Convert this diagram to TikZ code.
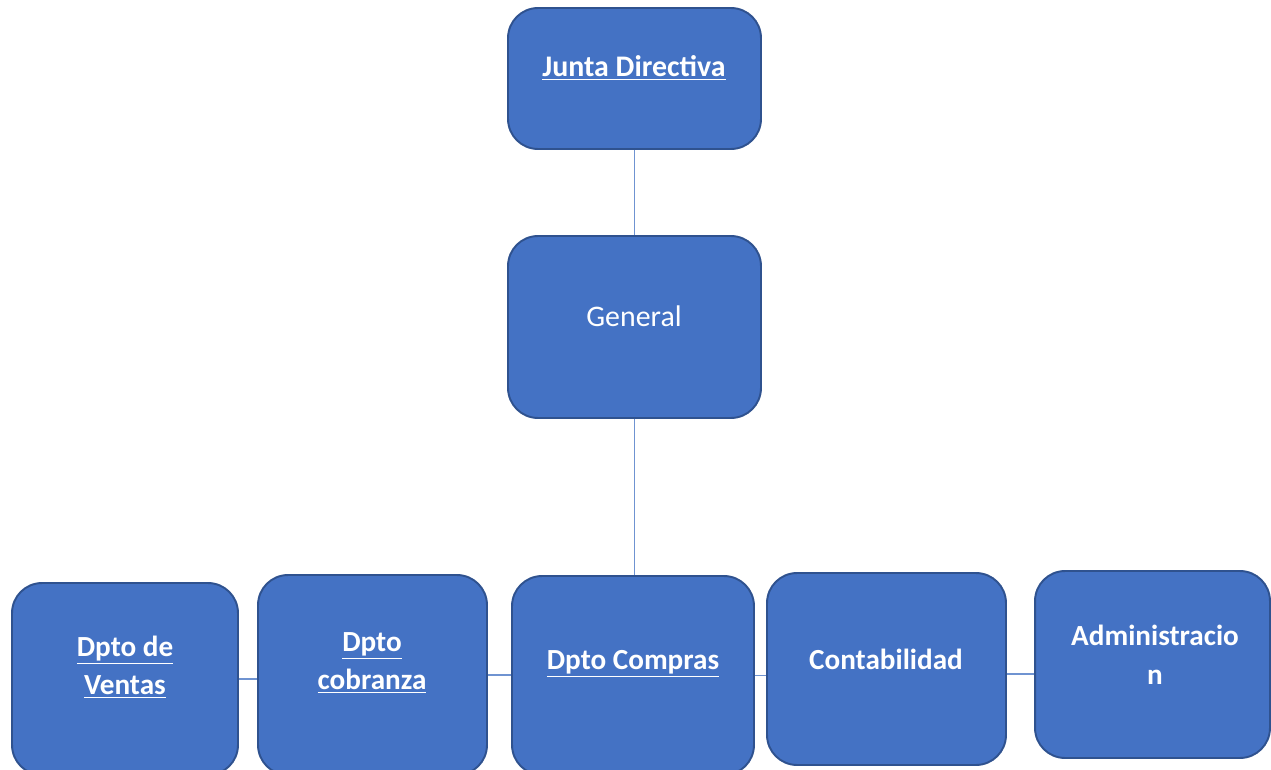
\documentclass[tikz,border=0pt]{standalone}
\usepackage{fontspec}
\setmainfont{Carlito}
\usetikzlibrary{positioning}
\definecolor{boxfill}{HTML}{4472C4}
\definecolor{boxline}{HTML}{2F528F}
\definecolor{linkcol}{HTML}{6F93D1}
\begin{document}
\begin{tikzpicture}[x=0.02cm,y=-0.02cm,
    dept node/.style={rectangle,rounded corners=0.6cm,draw=boxline,fill=boxfill,line width=1.1pt,inner sep=0pt},
    text node/.style={text=white,align=center,font=\fontsize{16.6}{22}\selectfont\bfseries},
    link/.style={draw=linkcol,line width=0.7pt}]
    \useasboundingbox (0,0) rectangle (1271,770);
    \clip (0,0) rectangle (1271,770);

    \node[dept node, minimum width=5.06cm, minimum height=2.82cm] at (634.5, 78.5) (junta) {};
    \node[dept node, minimum width=5.06cm, minimum height=3.64cm] at (634.5, 327) (general) {};
    \node[dept node, minimum width=4.52cm, minimum height=3.84cm] at (125, 679) (ventas) {};
    \node[dept node, minimum width=4.58cm, minimum height=4.00cm] at (372.5, 675) (cobranza) {};
    \node[dept node, minimum width=4.84cm, minimum height=3.98cm] at (633, 675.5) (compras) {};
    \node[dept node, minimum width=4.78cm, minimum height=3.84cm] at (886.5, 669) (contab) {};
    \node[dept node, minimum width=4.70cm, minimum height=3.74cm] at (1152.5, 664.5) (admin) {};

    \node[text node, font=\fontsize{17}{22}\selectfont\bfseries] at (634, 68) (juntatxt) {\underline{Junta Directiva}};
    \node[text node, font=\fontsize{17}{22}\selectfont] at (634, 316) (generaltxt) {General};
    \node[text node] at (125, 667) (ventastxt) {\underline{Dpto de}\\\underline{Ventas}};
    \node[text node] at (372, 663) (cobranzatxt) {\underline{Dpto}\\\underline{cobranza}};
    \node[text node] at (633, 664) (comprastxt) {\underline{Dpto Compras}};
    \node[text node] at (886, 659) (contabtxt) {Contabilidad};
    \node[text node] at (1155, 655) (admintxt) {Administracio\\n};

    \path[link]
        (junta) edge (general)
        (general.south) edge (compras.north -| general.south)
        (ventas.east) edge (ventas.east -| cobranza.west)
        (cobranza.east) edge (cobranza.east -| compras.west)
        (compras.east) edge (compras.east -| contab.west)
        ([yshift=-0.1cm]contab.east) edge ([yshift=-0.1cm]contab.east -| admin.west)
        ;
\end{tikzpicture}
\end{document}
